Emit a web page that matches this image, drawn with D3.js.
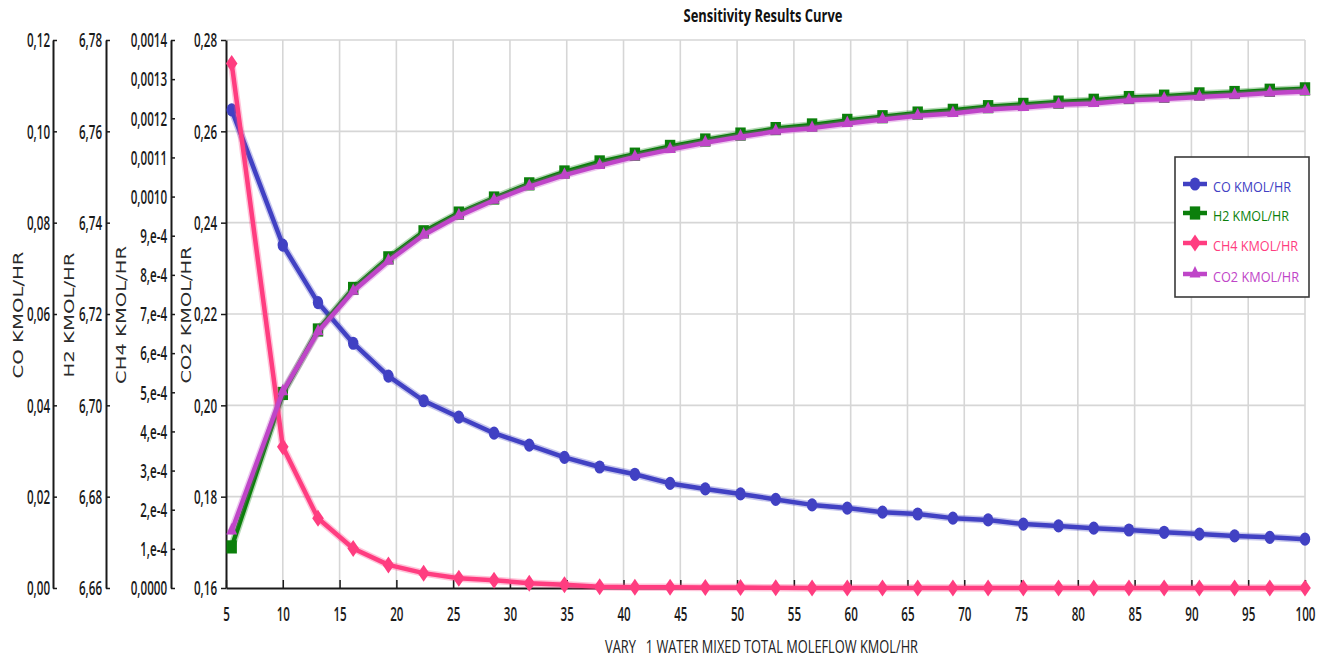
<!DOCTYPE html>
<html>
<head>
<meta charset="utf-8">
<title>Sensitivity Results Curve</title>
<script src="https://cdn.jsdelivr.net/npm/d3@7"></script>
<style>
  html, body { margin: 0; padding: 0; background: #ffffff; }
  svg { display: block; }
</style>
</head>
<body>
<svg id="chart" width="1332" height="657"></svg>
<script>
// Varied water feed flow (KMOL/HR)
const waterFlow = [5.5, 10, 13.1, 16.2, 19.3, 22.4, 25.5, 28.6, 31.7, 34.8, 37.9, 41, 44.1, 47.2, 50.3,
  53.4, 56.6, 59.7, 62.8, 65.9, 69, 72.1, 75.2, 78.3, 81.4, 84.5, 87.6, 90.7, 93.8, 96.9, 100];

// Product flows (KMOL/HR)
const coFlow = [0.1047, 0.0751, 0.0625, 0.0536, 0.0464, 0.0410, 0.0374, 0.0339, 0.0313, 0.0286, 0.0265,
  0.0249, 0.0229, 0.0217, 0.0206, 0.0194, 0.0182, 0.0175, 0.0166, 0.0162, 0.0153, 0.0149, 0.0140,
  0.0136, 0.0131, 0.0127, 0.0122, 0.0118, 0.0114, 0.0111, 0.0107];
const h2Flow = [6.6690, 6.7026, 6.7165, 6.7256, 6.7323, 6.7380, 6.7421, 6.7454, 6.7485, 6.7511, 6.7533,
  6.7550, 6.7567, 6.7581, 6.7594, 6.7606, 6.7614, 6.7624, 6.7632, 6.7640, 6.7646, 6.7654, 6.7659,
  6.7664, 6.7668, 6.7674, 6.7677, 6.7682, 6.7685, 6.7690, 6.7693];
const ch4Flow = [0.00134, 0.000361, 0.000178, 0.000101, 0.000059, 0.000038, 0.000025, 0.000020, 0.000012,
  0.000008, 0.0000033, 0.000002, 0.000002, 0.0000015, 0.000001, 0.0000005, 0.0000003, 0.0000002,
  0.0000001, 0.0000001, 0, 0, 0, 0, 0, 0, 0, 0, 0, 0, 0];
const co2Flow = [0.1725, 0.2030, 0.2161, 0.2250, 0.2316, 0.2373, 0.2415, 0.2449, 0.2479, 0.2504, 0.2525,
  0.2544, 0.2560, 0.2575, 0.2588, 0.2600, 0.2607, 0.2617, 0.2626, 0.2634, 0.2639, 0.2648, 0.2652,
  0.2658, 0.2661, 0.2668, 0.2671, 0.2675, 0.2679, 0.2684, 0.2687];

// Axis ticks and their labels
const xTicks = [5, 10, 15, 20, 25, 30, 35, 40, 45, 50, 55, 60, 65, 70, 75, 80, 85, 90, 95, 100];
const coTicks = [0, 0.02, 0.04, 0.06, 0.08, 0.10, 0.12];
const coLabels = ["0,00", "0,02", "0,04", "0,06", "0,08", "0,10", "0,12"];
const h2Ticks = [6.66, 6.68, 6.70, 6.72, 6.74, 6.76, 6.78];
const h2Labels = ["6,66", "6,68", "6,70", "6,72", "6,74", "6,76", "6,78"];
const ch4Ticks = [0, 0.0001, 0.0002, 0.0003, 0.0004, 0.0005, 0.0006, 0.0007, 0.0008, 0.0009,
  0.0010, 0.0011, 0.0012, 0.0013, 0.0014];
const ch4Labels = ["0,0000", "1,e-4", "2,e-4", "3,e-4", "4,e-4", "5,e-4", "6,e-4", "7,e-4", "8,e-4",
  "9,e-4", "0,0010", "0,0011", "0,0012", "0,0013", "0,0014"];
const co2Ticks = [0.16, 0.18, 0.20, 0.22, 0.24, 0.26, 0.28];
const co2Labels = ["0,16", "0,18", "0,20", "0,22", "0,24", "0,26", "0,28"];

const seriesNames = ["CO KMOL/HR", "H2 KMOL/HR", "CH4 KMOL/HR", "CO2 KMOL/HR"];

// ---- layout ----
const svg = d3.select("#chart");
const plot = { left: 226, right: 1305, top: 40, bottom: 588 };
const axisX = { co: 53, h2: 106, ch4: 171, co2: 226 };
const tickFont = "'Open Sans', 'Noto Sans', sans-serif";
const tickSize = 20, squeeze = 0.58;
const ink = "#1a1a1a";

const colors = { co: "#4141c3", h2: "#0b7f0b", ch4: "#ff3d80", co2: "#bf45c8" };

const x = d3.scaleLinear().domain([5, 100]).range([plot.left, plot.right]);
const yCO = d3.scaleLinear().domain([0, 0.12]).range([plot.bottom, plot.top]);
const yH2 = d3.scaleLinear().domain([6.66, 6.78]).range([plot.bottom, plot.top]);
const yCH4 = d3.scaleLinear().domain([0, 0.0014]).range([plot.bottom, plot.top]);
const yCO2 = d3.scaleLinear().domain([0.16, 0.28]).range([plot.bottom, plot.top]);

// ---- grid ----
const grid = svg.append("g").attr("stroke", "#d6d6d6").attr("stroke-width", 1.6);
grid.selectAll("line.v").data(xTicks.filter(d => d > 5)).join("line")
  .attr("x1", d => x(d)).attr("x2", d => x(d))
  .attr("y1", plot.top).attr("y2", plot.bottom);
grid.selectAll("line.h").data(co2Ticks.filter(d => d > 0.16)).join("line")
  .attr("x1", plot.left).attr("x2", plot.right)
  .attr("y1", d => yCO2(d)).attr("y2", d => yCO2(d));

// ---- y axes ----
function yAxis(xPos, scale, ticks, labels, inner, gap, title, titleX, titleLen) {
  const ax = d3.axisLeft(scale).tickValues(ticks).tickFormat((d, i) => labels[i])
    .tickSizeOuter(0).tickSizeInner(inner);
  const g = svg.append("g").attr("transform", `translate(${xPos},0)`).call(ax);
  g.select(".domain").attr("stroke", ink).attr("stroke-width", 2);
  g.selectAll(".tick line").attr("stroke", ink).attr("stroke-width", 1.5);
  g.selectAll(".tick text")
    .attr("font-family", tickFont).attr("font-size", tickSize).attr("font-weight", 600).attr("fill", ink)
    .attr("transform", `scale(${squeeze},1)`)
    .attr("x", -gap / squeeze).attr("dy", "0.34em");
  svg.append("text")
    .attr("transform", `translate(${titleX},315) rotate(-90)`)
    .attr("text-anchor", "middle").attr("dy", "0.36em")
    .attr("font-family", "'DejaVu Sans', Verdana, sans-serif").attr("font-size", 14)
    .attr("fill", "#2a2a2a")
    .attr("textLength", titleLen).attr("lengthAdjust", "spacingAndGlyphs")
    .text(title);
}
yAxis(axisX.co, yCO, coTicks, coLabels, -4, 3, seriesNames[0], 18, 127);
yAxis(axisX.h2, yH2, h2Ticks, h2Labels, -4, 4, seriesNames[1], 69, 125);
yAxis(axisX.ch4, yCH4, ch4Ticks, ch4Labels, -4, 4, seriesNames[2], 121, 138);
yAxis(axisX.co2, yCO2, co2Ticks, co2Labels, 5, 9, seriesNames[3], 186, 137);

// ---- x axis ----
const xa = d3.axisBottom(x).tickValues(xTicks).tickSizeInner(-8).tickSizeOuter(0).tickPadding(19);
const gx = svg.append("g").attr("transform", `translate(0,${plot.bottom})`).call(xa);
gx.select(".domain").attr("stroke", ink).attr("stroke-width", 2);
gx.selectAll(".tick line").attr("stroke", ink).attr("stroke-width", 1.5);
gx.selectAll(".tick text")
  .attr("font-family", tickFont).attr("font-size", tickSize).attr("font-weight", 600).attr("fill", ink)
  .attr("transform", `scale(${squeeze},1)`)
  .attr("x", 0);

svg.append("text")
  .attr("x", 761.5).attr("y", 653).attr("text-anchor", "middle")
  .attr("font-family", tickFont).attr("font-size", 18).attr("fill", "#222")
  .attr("textLength", 313).attr("lengthAdjust", "spacingAndGlyphs")
  .style("white-space", "pre")
  .text("VARY   1 WATER MIXED TOTAL MOLEFLOW KMOL/HR");

// ---- title ----
svg.append("text")
  .attr("x", 763).attr("y", 22).attr("text-anchor", "middle")
  .attr("font-family", tickFont).attr("font-size", 17).attr("font-weight", 700).attr("fill", "#111")
  .attr("textLength", 159).attr("lengthAdjust", "spacingAndGlyphs")
  .text("Sensitivity Results Curve");

// ---- markers ----
const markerShapes = {
  circle: sel => sel.append("ellipse").attr("rx", 5.2).attr("ry", 6.6),
  square: sel => sel.append("rect").attr("x", -5.2).attr("y", -6.6).attr("width", 10.4).attr("height", 13.2),
  diamond: sel => sel.append("path").attr("d", "M0,-8.5L5.8,0L0,8.5L-5.8,0Z"),
  triangle: sel => sel.append("path").attr("d", "M0,-8L5.5,3.5L-5.5,3.5Z")
};

function drawSeries(values, yScale, color, shape) {
  const pts = waterFlow.map((w, i) => [x(w), yScale(values[i])]);
  const line = d3.line();
  const g = svg.append("g");
  g.append("path").attr("d", line(pts)).attr("fill", "none")
    .attr("stroke", color).attr("stroke-width", 7.5).attr("stroke-opacity", 0.3)
    .attr("stroke-linejoin", "round").attr("stroke-linecap", "round");
  g.append("path").attr("d", line(pts)).attr("fill", "none")
    .attr("stroke", color).attr("stroke-width", 4.5)
    .attr("stroke-linejoin", "round").attr("stroke-linecap", "round");
  const m = g.selectAll("g.m").data(pts).join("g")
    .attr("transform", d => `translate(${d[0]},${d[1]})`).attr("fill", color);
  markerShapes[shape](m);
}

drawSeries(coFlow, yCO, colors.co, "circle");
drawSeries(h2Flow, yH2, colors.h2, "square");
drawSeries(ch4Flow, yCH4, colors.ch4, "diamond");
drawSeries(co2Flow, yCO2, colors.co2, "triangle");

// ---- legend ----
const legend = svg.append("g");
legend.append("rect").attr("x", 1175).attr("y", 157).attr("width", 134).attr("height", 140)
  .attr("fill", "#ffffff").attr("stroke", "#3a3a3a").attr("stroke-width", 1.6);
const legendItems = [
  { name: seriesNames[0], color: colors.co, shape: "circle", y: 184, len: 78 },
  { name: seriesNames[1], color: colors.h2, shape: "square", y: 213, len: 76 },
  { name: seriesNames[2], color: colors.ch4, shape: "diamond", y: 243, len: 85 },
  { name: seriesNames[3], color: colors.co2, shape: "triangle", y: 274, len: 86 }
];
legendItems.forEach(it => {
  const g = legend.append("g").attr("transform", `translate(0,${it.y})`);
  g.append("line").attr("x1", 1183).attr("x2", 1207).attr("y1", 0).attr("y2", 0)
    .attr("stroke", it.color).attr("stroke-width", 4.5);
  const mk = g.append("g").attr("transform", "translate(1195,0)").attr("fill", it.color);
  markerShapes[it.shape](mk);
  g.append("text").attr("x", 1213).attr("y", 8)
    .attr("font-family", tickFont).attr("font-size", 15).attr("fill", it.color)
    .attr("textLength", it.len).attr("lengthAdjust", "spacingAndGlyphs")
    .text(it.name);
});
</script>
</body>
</html>
